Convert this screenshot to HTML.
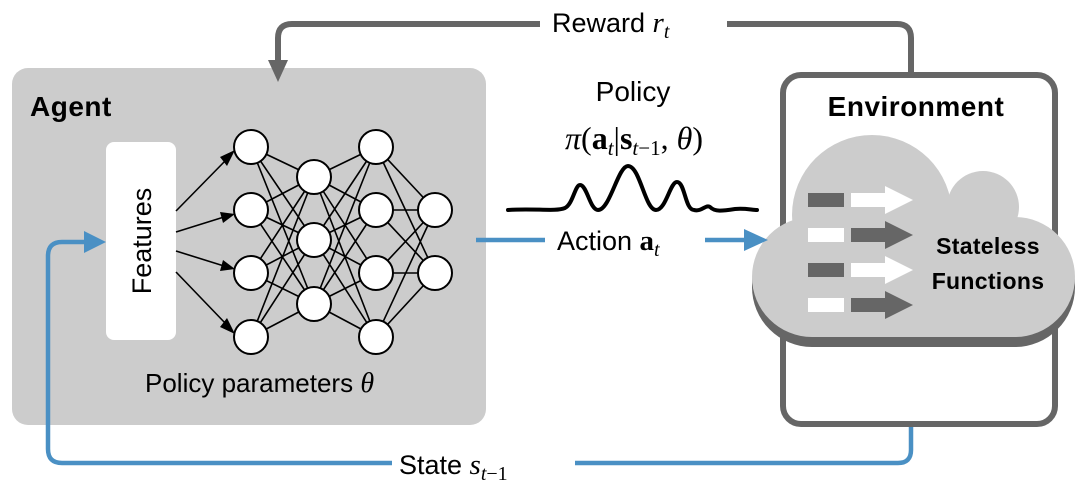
<!DOCTYPE html>
<html><head><meta charset="utf-8"><style>
html,body{margin:0;padding:0;background:#fff;width:1080px;height:484px;overflow:hidden}
svg{display:block}
text{font-family:"Liberation Sans",sans-serif}
.m{font-family:"Liberation Serif",serif;font-style:italic}
.s{font-family:"Liberation Serif",serif}
</style></head><body>
<svg width="1080" height="484" viewBox="0 0 1080 484" xmlns="http://www.w3.org/2000/svg">
<!-- agent box -->
<rect x="12" y="68" width="474" height="357" rx="16" fill="#cccccc"/>
<text x="30" y="116" font-size="28" font-weight="bold" fill="#000" letter-spacing="0.5">Agent</text>
<rect x="106" y="142" width="70" height="198" rx="8" fill="#fff"/>
<text transform="translate(151,241) rotate(-90)" text-anchor="middle" font-size="27" fill="#000">Features</text>
<!-- NN edges -->
<g stroke="#000" stroke-width="1.6" fill="none">
<path d="M251,147 L314,177 M251,147 L314,240 M251,147 L314,304 M251,210 L314,177 M251,210 L314,240 M251,210 L314,304 M251,273 L314,177 M251,273 L314,240 M251,273 L314,304 M251,337 L314,177 M251,337 L314,240 M251,337 L314,304"/>
<path d="M314,177 L376,147 M314,177 L376,210 M314,177 L376,273 M314,177 L376,337 M314,240 L376,147 M314,240 L376,210 M314,240 L376,273 M314,240 L376,337 M314,304 L376,147 M314,304 L376,210 M314,304 L376,273 M314,304 L376,337"/>
<path d="M376,147 L435,210 M376,147 L435,273 M376,210 L435,210 M376,210 L435,273 M376,273 L435,210 M376,273 L435,273 M376,337 L435,210 M376,337 L435,273"/>
<path d="M176,211 L226,160 M176,232 L224,217 M176,251 L224,266 M176,272 L226,324"/>
</g>
<g fill="#000">
<polygon points="235,150 220,157 227,166"/>
<polygon points="235,214 220,212 223,223"/>
<polygon points="235,269 223,260 220,271"/>
<polygon points="235,334 227,318 220,327"/>
</g>
<g fill="#fff" stroke="#000" stroke-width="2">
<circle cx="251" cy="147" r="17"/><circle cx="251" cy="210" r="17"/><circle cx="251" cy="273" r="17"/><circle cx="251" cy="337" r="17"/>
<circle cx="314" cy="177" r="17"/><circle cx="314" cy="240" r="17"/><circle cx="314" cy="304" r="17"/>
<circle cx="376" cy="147" r="17"/><circle cx="376" cy="210" r="17"/><circle cx="376" cy="273" r="17"/><circle cx="376" cy="337" r="17"/>
<circle cx="435" cy="210" r="17"/><circle cx="435" cy="273" r="17"/>
</g>
<text x="145" y="392" font-size="26" fill="#000">Policy parameters <tspan class="m" style="font-size:28px">θ</tspan></text>
<!-- environment -->
<rect x="783" y="75" width="272" height="349" rx="18" fill="#fff" stroke="#666" stroke-width="6"/>
<text x="916" y="116" text-anchor="middle" font-size="28" font-weight="bold" fill="#000" letter-spacing="0.5">Environment</text>
<g fill="#666">
<rect x="752" y="225" width="323" height="122" rx="60"/>
</g>
<g fill="#cccccc">
<circle cx="872" cy="215" r="80"/>
<circle cx="983" cy="207" r="36"/>
<rect x="752" y="217" width="323" height="120" rx="60"/>
</g>
<g>
<rect x="808" y="193" width="36" height="14" fill="#666"/>
<polygon points="851,193 885,193 885,186 913,200 885,214 885,207 851,207" fill="#fff"/>
<rect x="808" y="228" width="36" height="14" fill="#fff"/>
<polygon points="851,228 885,228 885,221 913,235 885,249 885,242 851,242" fill="#666"/>
<rect x="808" y="263" width="36" height="14" fill="#666"/>
<polygon points="851,263 885,263 885,256 913,270 885,284 885,277 851,277" fill="#fff"/>
<rect x="808" y="298" width="36" height="14" fill="#fff"/>
<polygon points="851,298 885,298 885,291 913,305 885,319 885,312 851,312" fill="#666"/>
</g>
<text x="988" y="254" text-anchor="middle" font-size="23" font-weight="bold" fill="#000" letter-spacing="0.3">Stateless</text>
<text x="988" y="289" text-anchor="middle" font-size="23" font-weight="bold" fill="#000" letter-spacing="0.3">Functions</text>
<!-- reward -->
<path d="M911,72 L911,38 Q911,24 897,24 L727,24 M540,24 L292,24 Q278,24 278,38 L278,62" fill="none" stroke="#666" stroke-width="6"/>
<polygon points="268,60 288,60 278,82" fill="#666"/>
<text x="552" y="32" font-size="27" fill="#000">Reward <tspan class="m" style="font-size:29px">r</tspan><tspan class="m" style="font-size:20px" dy="6">t</tspan></text>
<!-- policy -->
<text x="633" y="101" text-anchor="middle" font-size="28" fill="#000">Policy</text>
<text x="634" y="149" text-anchor="middle" style="font-family:'Liberation Serif',serif;font-size:32px" fill="#000"><tspan class="m">π</tspan>(<tspan font-weight="bold">a</tspan><tspan class="m" style="font-size:21px" dy="6">t</tspan><tspan dy="-6">|</tspan><tspan font-weight="bold">s</tspan><tspan class="m" style="font-size:21px" dy="6">t</tspan><tspan style="font-size:21px">−1</tspan><tspan dy="-6">,</tspan> <tspan class="m">θ</tspan>)</text>
<path d="M508,210 C535,208 555,212 565,208 C573,204 575,185 580,185 C587,185 590,210 598,210 C610,210 618,166 628,166 C640,166 645,210 656,210 C666,210 670,182 677,182 C685,182 685,210 694,210 C702,212 706,204 710,207 C715,212 722,211 735,209 C745,208 752,210 757,210" fill="none" stroke="#000" stroke-width="4" stroke-linecap="round"/>
<!-- action -->
<path d="M476,240 L545,240 M705,240 L748,240" stroke="#4a90c4" stroke-width="4.5" fill="none"/>
<polygon points="744,229 744,251 768,240" fill="#4a90c4"/>
<text x="557" y="250" font-size="27" fill="#000">Action <tspan class="s" font-weight="bold" style="font-size:29px">a</tspan><tspan class="m" style="font-size:20px" dy="6">t</tspan></text>
<!-- state -->
<path d="M911,427 L911,450 Q911,463 898,463 L575,463 M392,463 L62,463 Q48,463 48,449 L48,256 Q48,242 62,242 L86,242" fill="none" stroke="#4a90c4" stroke-width="4.5"/>
<polygon points="84,231 84,253 106,242" fill="#4a90c4"/>
<text x="399" y="474" font-size="27" fill="#000">State <tspan class="m" style="font-size:29px">s</tspan><tspan class="m" style="font-size:20px" dy="6">t</tspan><tspan class="s" style="font-size:20px">−1</tspan></text>
</svg>
</body></html>
